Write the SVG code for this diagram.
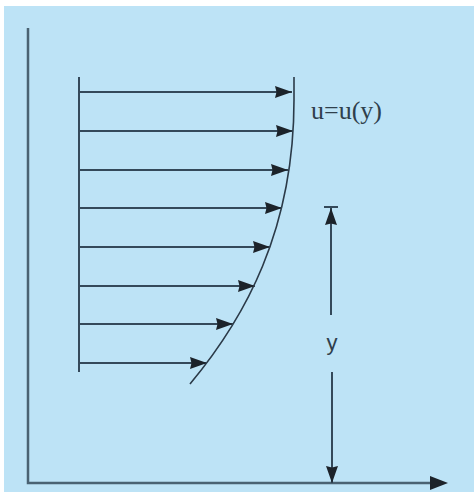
<svg xmlns="http://www.w3.org/2000/svg" width="474" height="495" viewBox="0 0 474 495">
<style>
.ln{stroke:#34495a;fill:none;stroke-width:2}
.ax{stroke:#4a6272;fill:none;stroke-width:2.5}
.crv{stroke:#2b3a48;fill:none;stroke-width:1.6}
</style>
<defs>
<marker id="ah" viewBox="0 0 17 12" refX="17" refY="6" markerWidth="17" markerHeight="12" markerUnits="userSpaceOnUse" orient="auto">
<path d="M0,0 L17,6 L0,12 L1.5,6 Z" fill="#1c232a"/>
</marker>
</defs>
<rect x="0" y="0" width="474" height="495" fill="#ffffff"/>
<rect x="4" y="6" width="470" height="486" fill="#bde3f6"/>
<g id="axes">
<path class="ax" d="M28,28 L28,483 L430,483"/>
<path d="M430,476 L448,483 L430,490 Z" fill="#1c232a"/>
</g>
<g id="profile">
<path class="ln" d="M79,77 L79,372"/>
<path class="crv" d="M294,77 L294,100 C294,230 245,318 190,384"/>
</g>
<g id="connectors">
<line class="ln" x1="79" y1="92" x2="292" y2="92" marker-end="url(#ah)"/>
<line class="ln" x1="79" y1="131" x2="293" y2="131" marker-end="url(#ah)"/>
<line class="ln" x1="79" y1="170" x2="288" y2="170" marker-end="url(#ah)"/>
<line class="ln" x1="79" y1="208" x2="282" y2="208" marker-end="url(#ah)"/>
<line class="ln" x1="79" y1="247" x2="270" y2="247" marker-end="url(#ah)"/>
<line class="ln" x1="79" y1="286" x2="255" y2="286" marker-end="url(#ah)"/>
<line class="ln" x1="79" y1="324" x2="233" y2="324" marker-end="url(#ah)"/>
<line class="ln" x1="79" y1="363" x2="207" y2="363" marker-end="url(#ah)"/>
</g>
<g id="dimension">
<line class="ln" x1="324" y1="207" x2="338" y2="207"/>
<line class="ln" x1="331" y1="315" x2="331" y2="208" marker-end="url(#ah)"/>
<line class="ln" x1="332" y1="372" x2="332" y2="483" marker-end="url(#ah)"/>
<text x="332" y="350" font-family="Liberation Sans, sans-serif" font-size="22" fill="#2f3f4c" text-anchor="middle">y</text>
</g>
<g id="label">
<text x="311" y="119" font-family="Liberation Serif, serif" font-size="26" fill="#2f3f4c">u=u(y)</text>
</g>
</svg>
